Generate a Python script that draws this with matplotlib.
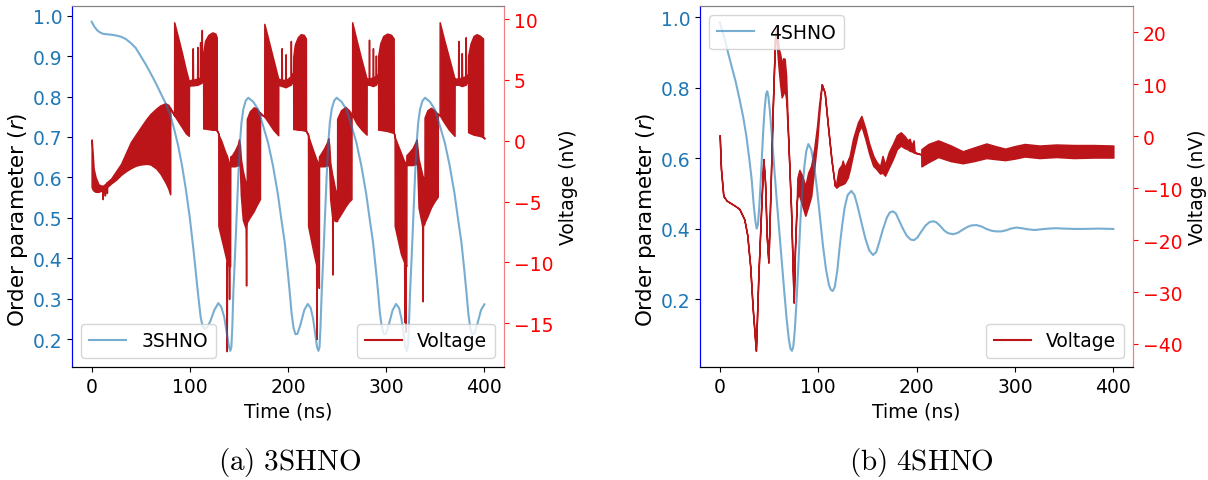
import matplotlib
matplotlib.use('Agg')
import matplotlib.pyplot as plt
from matplotlib.lines import Line2D

plt.rcParams['font.size'] = 13.5

BLUE = '#1f77b4'
RED = '#bb151a'

# ---------------- (a) 3SHNO : order parameter ----------------
T3 = [0, 3, 6, 9, 12, 16, 20, 25, 30, 35, 40, 45, 50, 55, 60, 65, 70, 75, 80, 84, 88, 92, 96,
      100, 104, 108, 111, 113, 115.5, 118, 121, 125, 129, 132, 135, 138, 140, 141.2, 142.3,
      143.3, 144.3, 146, 147.7, 149.4, 151.1, 152.6, 154.5, 157, 159.6,
      164.6, 169.6, 174.6, 179.6, 184.6, 189.6, 193.6, 196.6, 199.6, 201.6, 203.6, 205.6,
      207.6, 209.6, 212.6, 216.6, 220.1, 223.1, 225.6, 228.1, 229.6, 231.0, 232.1, 233.1,
      234.3, 236.0, 237.7, 239.4, 241.1, 242.6, 244.5, 247.1, 249.6,
      254.6, 259.6, 264.6, 269.6, 274.6, 279.6, 283.6, 286.6, 289.6, 291.6, 293.6, 295.6,
      297.6, 299.6, 302.6, 306.6, 310.1, 313.1, 315.6, 318.1, 319.6, 321.0, 322.1, 323.1,
      324.3, 326.0, 327.7, 329.4, 331.1, 332.6, 334.5, 337.1, 339.6,
      344.6, 349.6, 354.6, 359.6, 364.6, 369.6, 373.6, 376.6, 379.6, 381.6, 383.6, 385.6,
      387.6, 389.6, 392.6, 396.6, 400]
R3 = [0.985, 0.972, 0.963, 0.958, 0.955, 0.954, 0.953, 0.951, 0.948, 0.942, 0.932, 0.92, 0.90,
      0.88, 0.858, 0.835, 0.81, 0.785, 0.755, 0.72, 0.68, 0.63, 0.57,
      0.50, 0.415, 0.32, 0.255, 0.232, 0.225, 0.23, 0.245, 0.272, 0.289, 0.28, 0.255, 0.21,
      0.18, 0.171, 0.18, 0.23, 0.315, 0.406, 0.505, 0.604, 0.687, 0.735, 0.769, 0.79, 0.797,
      0.787, 0.768, 0.728, 0.687, 0.63, 0.56, 0.49, 0.44, 0.37, 0.32, 0.265, 0.228,
      0.212, 0.213, 0.235, 0.272, 0.287, 0.277, 0.25, 0.205, 0.18, 0.171, 0.18, 0.23,
      0.315, 0.406, 0.505, 0.604, 0.687, 0.735, 0.769, 0.79, 0.797,
      0.787, 0.768, 0.728, 0.687, 0.63, 0.56, 0.49, 0.44, 0.37, 0.32, 0.265, 0.228,
      0.212, 0.213, 0.235, 0.272, 0.287, 0.277, 0.25, 0.205, 0.18, 0.171, 0.18, 0.23,
      0.315, 0.406, 0.505, 0.604, 0.687, 0.735, 0.769, 0.79, 0.797,
      0.787, 0.768, 0.728, 0.687, 0.63, 0.56, 0.49, 0.44, 0.37, 0.32, 0.265, 0.228,
      0.212, 0.213, 0.235, 0.272, 0.286]

# ---------------- (a) 3SHNO : voltage envelope (upper / lower, nV) ----------------
VT3 = [0.0, 1.0, 2.0, 4.0, 7.0, 10.0, 11.0, 11.3, 11.6, 13.2, 13.5, 13.8, 15.3, 15.5, 15.8,
       20, 25, 30, 35, 40, 45, 50, 56, 60, 66, 70, 75, 78, 80, 80.1, 82, 84,
       84.1, 88, 92, 96, 99, 99.1, 101, 102.7, 103, 103.3, 107.4, 107.7, 108, 110.2, 110.5,
       110.8, 111.9, 112.2, 112.5, 113.6,
       113.7, 115.5, 119, 123, 126, 127.4, 127.5, 129,
       129.1, 132, 135, 137.3, 137.6, 137.9, 139.7, 140, 140.3, 141.0, 141.2, 143, 146, 149,
       150, 151, 152, 154, 156.9, 157.3, 157.7, 158,
       158.1, 161, 165, 168, 171.4, 171.5, 174, 175.8,
       175.9, 180, 185, 190, 190.1, 193.2, 193.5, 193.8, 197.2, 197.5, 197.8, 200, 202.6,
       202.9, 203.2, 205.3,
       205.4, 207, 210, 213, 216, 218.2, 218.3, 220.4,
       220.5, 223, 226, 228.7, 229, 229.3, 231.1, 231.4, 231.6, 234, 237, 240, 241, 242,
       243, 245, 245.3, 245.6, 248, 250,
       250.1, 254, 258.5, 262, 264.6, 264.7, 265.3,
       265.4, 270, 275, 280, 280.1, 282.2, 282.5, 282.8, 286.2, 286.5, 286.8, 289.2, 289.5,
       289.8, 291.8,
       291.9, 294, 297, 301, 305, 307.6, 307.7, 308.6,
       308.7, 312, 315, 318.3, 318.6, 318.9, 319.2, 319.5, 319.8, 320.5, 320.6, 324, 327,
       330, 331, 331.7, 333, 336.7, 337.1, 337.5, 339,
       339.1, 342, 345.5, 349, 352.5, 352.6, 354.4,
       354.5, 359, 364, 369.6, 369.7, 373.2, 373.5, 373.8, 376.7, 377, 377.3, 380.7, 381,
       381.3, 383.4,
       383.5, 386, 389, 392, 395, 398.6, 398.7, 400]
VU3 = [0.1, -1.0, -2.3, -3.0, -3.6, -3.7, -3.7, -3.7, -3.7, -3.6, -3.6, -3.6, -3.4, -3.4, -3.4,
       -3.1, -2.5, -1.9, -1.0, -0.1, 0.5, 1.1, 1.8, 2.2, 2.65, 2.9, 3.07, 2.95, 2.7, 2.65, 2.4, 2.1,
       9.73, 8.5, 7.2, 5.8, 4.9, 4.9, 5.0, 5.0, 7.6, 5.0, 5.1, 7.7, 5.1, 5.2, 8.1,
       5.2, 5.3, 9.1, 5.4, 5.5,
       7.2, 8.2, 8.7, 8.9, 8.8, 8.5, 0.85, 0.6,
       0.5, 0.0, -0.7, -1.2, -1.2, -1.3, -1.8, -1.9, -2.0, -2.0, -1.3, -1.2, -0.8, -0.3,
       0.1, -0.3, -1.5, -2.5, -3.5, -3.5, -4.0, -4.5,
       1.78, 2.4, 2.74, 2.65, 2.3, 2.3, 2.1, 2.0,
       9.6, 8.3, 6.7, 5.1, 5.1, 5.0, 7.6, 5.0, 5.0, 7.1, 5.0, 5.1, 5.3,
       8.2, 5.4, 5.6,
       6.9, 7.9, 8.5, 8.75, 8.7, 8.4, 0.8, 0.5,
       0.4, -0.2, -0.9, -1.5, -1.6, -1.6, -2.0, -2.0, -1.3, -1.0, -0.6, -0.1, 0.2, -0.4,
       -1.8, -2.8, -2.9, -3.0, -4.0, -4.5,
       1.8, 2.5, 2.78, 2.5, 2.2, 2.2, 2.1,
       9.73, 8.2, 6.6, 5.1, 5.1, 5.1, 8.3, 5.1, 5.2, 7.6, 5.2, 5.3, 7.0,
       5.3, 5.5,
       7.0, 8.0, 8.6, 8.8, 8.7, 8.4, 0.65, 0.4,
       0.3, -0.4, -1.0, -1.7, -1.7, -1.8, -1.8, -1.9, -1.9, -2.0, -1.2, -0.9, -0.6,
       -0.1, 0.1, -0.5, -1.5, -2.8, -2.9, -3.0, -3.5,
       1.9, 2.5, 2.7, 2.5, 2.2, 2.2, 2.1,
       9.73, 8.3, 6.8, 5.1, 5.1, 5.1, 8.2, 5.1, 5.2, 7.2, 5.2, 5.3, 8.5,
       5.3, 5.5,
       7.0, 8.0, 8.6, 8.75, 8.65, 8.4, 0.3, 0.2]
VL3 = [-3.8, -4.0, -4.1, -4.2, -4.2, -4.1, -4.1, -4.8, -4.1, -4.0, -4.5, -4.0, -3.8, -4.3, -3.8,
       -3.5, -3.2, -2.8, -2.5, -2.25, -2.05, -1.95, -1.9, -1.95, -2.3, -2.7, -3.4, -3.9, -4.4,
       2.65, 2.4, 2.1,
       2.1, 1.6, 1.1, 0.6, 0.4, 4.5, 4.55, 4.55, 4.55, 4.55, 4.6, 4.6, 4.6, 4.7, 4.7,
       4.7, 4.8, 4.8, 4.8, 5.0,
       1.0, 1.0, 0.95, 0.9, 0.9, 0.85, 0.85, 0.6,
       -7.0, -8.0, -9.0, -9.8, -17.3, -10.0, -10.3, -13.0, -10.3, -10.3, -2.1, -2.1, -2.1, -2.0,
       -2.0, -2.1, -4.5, -6.5, -7.2, -11.9, -7.0, -6.8,
       -6.7, -6.3, -5.8, -5.3, -4.8, 2.3, 2.1, 2.0,
       2.0, 1.5, 0.9, 0.45, 4.6, 4.5, 4.5, 4.5, 4.4, 4.4, 4.4, 4.5, 4.6,
       4.6, 4.7, 4.8,
       0.95, 0.95, 0.9, 0.9, 0.85, 0.8, 0.8, 0.5,
       -7.0, -8.0, -9.2, -10.2, -16.3, -10.3, -10.5, -12.1, -2.1, -2.1, -2.1, -2.0, -2.0, -2.2,
       -4.8, -6.3, -11.0, -6.4, -6.6, -6.6,
       -6.5, -6.0, -5.4, -5.0, -4.8, 2.2, 2.1,
       2.1, 1.4, 0.9, 0.5, 4.6, 4.6, 4.6, 4.6, 4.5, 4.5, 4.5, 4.6, 4.6,
       4.7, 4.8,
       0.9, 0.9, 0.85, 0.8, 0.7, 0.65, 0.65, 0.4,
       -7.0, -8.2, -9.3, -10.0, -14.9, -10.1, -10.1, -15.7, -10.2, -10.3, -2.0, -2.0, -2.0,
       -1.9, -1.9, -2.1, -5.5, -7.0, -13.2, -7.0, -6.8,
       -6.7, -6.2, -5.5, -5.0, -4.6, 2.2, 2.1,
       2.1, 1.5, 0.9, 0.4, 4.6, 4.6, 4.6, 4.6, 4.5, 4.5, 4.5, 4.6, 4.6,
       4.7, 4.8,
       0.7, 0.6, 0.5, 0.45, 0.4, 0.3, 0.3, 0.2]

# ---------------- (b) 4SHNO : order parameter ----------------
T4 = [0, 4, 8, 12, 16, 20, 24, 27, 30, 32.5, 34.5, 36.3, 37.6, 38.8, 40.2, 41.6, 43, 44.5, 46,
      47.2, 48.3, 49.5, 51, 53, 55.5, 58, 60.5, 63, 65.5, 68, 70.3, 72, 73.4, 74.8, 76.3, 78,
      80, 82, 84, 86, 88, 90.1, 93, 96, 99, 102, 105, 108, 111, 113, 115, 117, 119.5, 122,
      124.5, 127, 130, 133.8, 137, 140, 144, 148, 152, 155.8, 159, 162, 166, 170, 173, 176.1,
      179, 182, 186.3, 190, 194, 197.5, 201, 205, 209, 213, 216.8, 220, 224, 228, 232, 237.2,
      242, 247, 252, 256, 260.9, 266, 271, 276, 281, 286, 291, 296, 301.5, 307, 313, 320, 327,
      334, 342, 350, 360, 370, 385, 400]
R4 = [0.986, 0.95, 0.905, 0.862, 0.82, 0.77, 0.715, 0.665, 0.60, 0.54, 0.47, 0.42, 0.40, 0.41,
      0.46, 0.53, 0.61, 0.69, 0.75, 0.782, 0.79, 0.775, 0.735, 0.665, 0.57, 0.48, 0.395, 0.31,
      0.225, 0.145, 0.085, 0.058, 0.053, 0.065, 0.11, 0.19, 0.30, 0.42, 0.51, 0.575, 0.62,
      0.64, 0.625, 0.58, 0.51, 0.43, 0.35, 0.285, 0.24, 0.226, 0.223, 0.235, 0.28, 0.35, 0.41,
      0.46, 0.495, 0.507, 0.495, 0.465, 0.418, 0.372, 0.338, 0.325, 0.333, 0.36, 0.399, 0.432,
      0.446, 0.449, 0.443, 0.425, 0.399, 0.38, 0.369, 0.367, 0.375, 0.392, 0.408, 0.418, 0.421,
      0.418, 0.408, 0.395, 0.387, 0.384, 0.388, 0.397, 0.405, 0.409, 0.41, 0.406, 0.399, 0.394,
      0.392, 0.392, 0.395, 0.40, 0.403, 0.401, 0.398, 0.396, 0.398, 0.40, 0.401, 0.40, 0.399,
      0.399, 0.40, 0.399]

# ---------------- (b) 4SHNO : voltage envelope (upper / lower, nV) ----------------
VT4 = [0.0, 1.3, 3.7, 7.1, 15.6, 20, 25, 28, 31, 33.5, 36.8, 39.3, 42.7, 44.4, 46.1, 47.8,
       49.5, 51.1, 53.9, 56.2, 57.2, 58.5, 60, 61.5, 63, 64.5, 66, 67.5, 69.8, 72.5, 75.2,
       76.5, 78.3, 79, 81, 84, 87, 90, 93, 96, 99, 101, 103.7, 106.7, 110, 113.5, 117, 118.5,
       121, 124, 125, 127, 130, 132.1, 135.5, 140.6, 144, 148, 152, 156, 159.2, 163, 165.5,
       168, 172, 176, 180, 184, 188, 191, 193, 195, 197, 198, 200, 204.9,
       205, 212, 222, 235, 247, 258, 271, 280, 290, 300, 310, 325, 342, 360, 380, 400]
VU4 = [0.2, -6.3, -11.5, -12.4, -13.4, -14.0, -16.0, -19.0, -25.0, -33.0, -41.3, -26.9, -11.5,
       -4.4, -8.9, -19.2, -24.3, -14.0, 5.2, 18.7, 20.8, 20.0, 16.8, 15.8, 13.9, 15.0, 14.9, 11.6,
       -1.2, -14.0, -32.0, -21.7, -12.7, -8.0, -6.5, -7.7, -9.6, -7.0, -5.7, -2.5, 2.0, 6.0,
       10.0, 8.4, 2.0, -4.4, -9.5, -9.0, -6.3, -5.5, -4.7, -6.0, -4.7, -3.8, -0.5, 2.7, 3.9,
       1.5, -1.5, -3.75, -4.9, -5.8, -3.8, -5.5, -3.0, -1.5, 0.2, 0.75, 0.0, -0.8, -0.5, -1.8,
       -0.8, -2.9, -3.2, -3.5,
       -2.5, -1.5, -0.8, -1.8, -2.9, -2.2, -1.4, -1.9, -2.4, -1.9, -1.5, -1.8, -1.6, -1.7,
       -1.7, -1.8]
VL4 = [0.2, -6.3, -11.5, -12.4, -13.4, -14.0, -16.0, -19.0, -25.0, -33.0, -41.3, -26.9, -11.5,
       -4.4, -8.9, -19.2, -24.3, -14.0, 5.2, 18.7, 19.5, 16.5, 12.9, 9.9, 7.5, 8.1, 9.0, 7.2,
       -1.2, -14.0, -32.0, -21.7, -12.7, -11.5, -11.5, -13.4, -15.3, -13.5, -11.5, -6.3, -1.2,
       4.0, 10.0, 8.4, 2.0, -4.4, -9.5, -9.9, -9.5, -9.3, -9.2, -9.0, -8.0, -6.5, -3.5, 0.7,
       2.0, -0.5, -3.4, -5.7, -6.3, -7.2, -7.0, -7.6, -6.0, -4.4, -2.5, -1.8, -2.3, -2.5, -2.8,
       -2.9, -3.1, -3.2, -3.3, -3.5,
       -5.8, -5.0, -4.0, -4.8, -5.2, -4.8, -4.2, -4.4, -4.6, -4.3, -3.9, -4.2, -4.0, -4.2,
       -4.1, -4.1]

fig = plt.figure(figsize=(12.08, 4.81), dpi=100)


def panel(rect, t_r, r, t_v, v_up, v_lo, name, r_ylim, v_ylim, r_ticks, v_ticks, name_loc):
    ax = fig.add_axes(rect)
    ax2 = ax.twinx()
    ax2.fill_between(t_v, v_lo, v_up, facecolor=RED, edgecolor=RED, linewidth=1.1)
    ax.plot(t_r, r, color=BLUE, alpha=0.6, lw=1.5)
    ax.set_zorder(ax2.get_zorder() + 1)
    ax.patch.set_visible(False)

    ax.set_xlim(-20, 420)
    ax.set_ylim(*r_ylim)
    ax2.set_ylim(*v_ylim)
    ax.set_yticks(r_ticks)
    ax2.set_yticks(v_ticks)
    ax.set_xticks([0, 100, 200, 300, 400])

    ax.tick_params(axis='y', labelcolor=BLUE)
    ax2.tick_params(axis='y', labelcolor='red', color='red')
    for a in (ax, ax2):
        a.spines['left'].set_color('blue')
        a.spines['right'].set_color('#f08080')
        a.spines['top'].set_color('gray')
    ax.set_xlabel('Time (ns)')
    ax.set_ylabel('Order parameter ($r$)', fontsize=15.5, labelpad=2)
    ax.yaxis.label.set_y(0.41)
    ax2.set_ylabel('Voltage (nV)')

    h1 = Line2D([], [], color=BLUE, alpha=0.6, lw=1.5)
    h2 = Line2D([], [], color=RED, lw=1.5)
    leg1 = ax.legend([h1], [name], loc=name_loc)
    ax.add_artist(leg1)
    ax.legend([h2], ['Voltage'], loc='lower right')
    return ax, ax2


panel([72 / 1208, 113 / 481, 432 / 1208, 361 / 481], T3, R3, VT3, VU3, VL3, '3SHNO',
      (0.131, 1.024), (-18.6, 11.07), [0.2, 0.3, 0.4, 0.5, 0.6, 0.7, 0.8, 0.9, 1.0],
      [-15, -10, -5, 0, 5, 10], 'lower left')
panel([700 / 1208, 113 / 481, 433 / 1208, 361 / 481], T4, R4, VT4, VU4, VL4, '4SHNO',
      (0.007, 1.032), (-44.43, 25.07), [0.2, 0.4, 0.6, 0.8, 1.0],
      [-40, -30, -20, -10, 0, 10, 20], 'upper left')

fig.text(290 / 1208, 1 - 463 / 481, r'$\mathrm{(a)\ 3SHNO}$', math_fontfamily='cm',
         fontsize=21, ha='center', va='center')
fig.text(921 / 1208, 1 - 463 / 481, r'$\mathrm{(b)\ 4SHNO}$', math_fontfamily='cm',
         fontsize=21, ha='center', va='center')

fig.savefig('out.png', dpi=100)
